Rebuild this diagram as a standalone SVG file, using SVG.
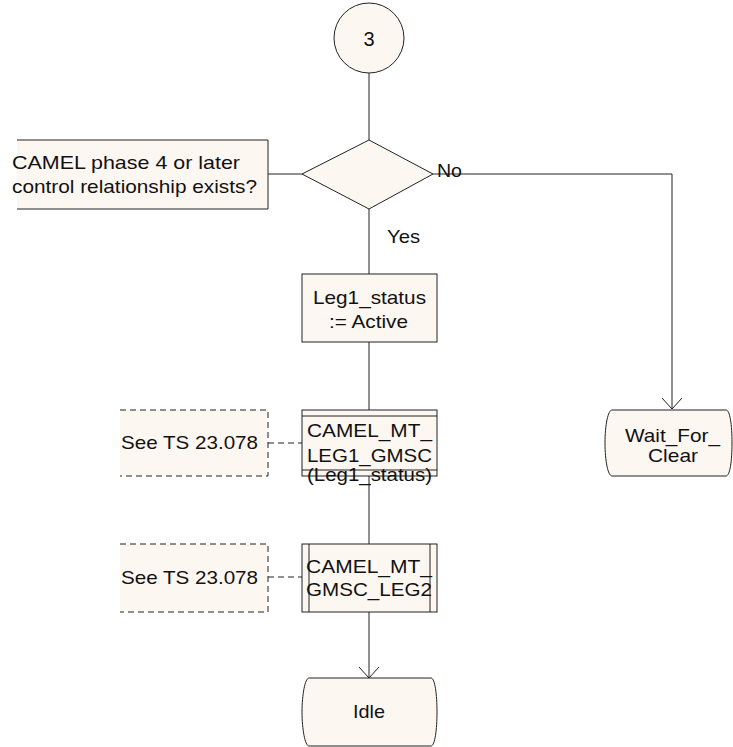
<svg xmlns="http://www.w3.org/2000/svg" width="733" height="747" viewBox="0 0 733 747">
<defs>
<marker id="arr" markerUnits="userSpaceOnUse" markerWidth="24" markerHeight="24" viewBox="-12 -12 24 24" refX="0" refY="0" orient="auto">
<path d="M-11,-10 L0,0 L-11,10" fill="none" stroke="#222" stroke-width="1"/>
</marker>
</defs>
<style>
.sh{fill:#fdf7f1;stroke:#222;stroke-width:1}
.ln{fill:none;stroke:#222;stroke-width:1}
.ds{fill:none;stroke:#222;stroke-width:1;stroke-dasharray:6 4}
.t{font-family:"Liberation Sans",Arial,sans-serif;font-size:19px;fill:#111}
.c{text-anchor:middle}
</style>
<rect width="733" height="747" fill="#fff"/>
<g id="connectors">
<path class="ln" d="M369,73 V140"/>
<path class="ln" d="M302,174 H268"/>
<path class="ln" d="M433,174 H672 V409" marker-end="url(#arr)"/>
<path class="ln" d="M369,209 V274"/>
<path class="ln" d="M369,342 V410"/>
<path class="ln" d="M369,476 V544"/>
<path class="ln" d="M369,612 V678" marker-end="url(#arr)"/>
<path class="ds" d="M268,443 H302"/>
<path class="ds" d="M268,577 H302"/>
</g>
<g id="connector-start">
<circle class="sh" cx="369" cy="38" r="35"/>
<text class="t c" x="369" y="46" style="font-size:20px">3</text>
</g>
<g id="decision">
<polygon class="sh" points="369,140 433,174 369,209 302,174"/>
<text class="t" x="437" y="177" textLength="25" lengthAdjust="spacingAndGlyphs">No</text>
<text class="t" x="387" y="243" textLength="33" lengthAdjust="spacingAndGlyphs">Yes</text>
</g>
<g id="decision-comment">
<rect x="17" y="140" width="251" height="69" fill="#fdf7f1"/>
<path class="ln" d="M17,140 H268 V209 H17"/>
<text class="t" x="12" y="169" textLength="228" lengthAdjust="spacingAndGlyphs">CAMEL phase 4 or later</text>
<text class="t" x="12" y="193" textLength="245" lengthAdjust="spacingAndGlyphs">control relationship exists?</text>
</g>
<g id="task-leg1">
<rect class="sh" x="302" y="274" width="135" height="68"/>
<text class="t" x="313" y="304" textLength="113" lengthAdjust="spacingAndGlyphs">Leg1_status</text>
<text class="t" x="329" y="328" textLength="79" lengthAdjust="spacingAndGlyphs">:= Active</text>
</g>
<g id="proc-leg1-gmsc">
<rect class="sh" x="302" y="410" width="135" height="66"/>
<path class="ln" d="M302,416 H437 M302,470 H437"/>
<text class="t" x="307" y="437" textLength="125" lengthAdjust="spacingAndGlyphs">CAMEL_MT_</text>
<text class="t" x="307" y="461.5" textLength="125" lengthAdjust="spacingAndGlyphs">LEG1_GMSC</text>
<text class="t" x="307" y="481" textLength="125" lengthAdjust="spacingAndGlyphs">(Leg1_status)</text>
</g>
<g id="comment-1">
<rect x="120" y="410" width="148" height="66" fill="#fdf7f1"/>
<path class="ds" d="M120,410 H268 V476 H120"/>
<text class="t" x="121" y="449" textLength="137" lengthAdjust="spacingAndGlyphs">See TS 23.078</text>
</g>
<g id="proc-gmsc-leg2">
<rect class="sh" x="302" y="544" width="135" height="68"/>
<path class="ln" d="M309,544 V612 M430,544 V612"/>
<text class="t" x="306" y="573" textLength="126" lengthAdjust="spacingAndGlyphs">CAMEL_MT_</text>
<text class="t" x="306" y="596" textLength="126" lengthAdjust="spacingAndGlyphs">GMSC_LEG2</text>
</g>
<g id="comment-2">
<rect x="120" y="544" width="148" height="68" fill="#fdf7f1"/>
<path class="ds" d="M120,544 H268 V612 H120"/>
<text class="t" x="121" y="584" textLength="137" lengthAdjust="spacingAndGlyphs">See TS 23.078</text>
</g>
<g id="state-wait">
<path class="sh" d="M612,410 H726 C730,410 732,425 732,443 C732,461 730,476 726,476 H612 C608,476 605,461 605,443 C605,425 608,410 612,410 Z"/>
<text class="t" x="625" y="442" textLength="95" lengthAdjust="spacingAndGlyphs">Wait_For_</text>
<text class="t" x="648" y="462" textLength="50" lengthAdjust="spacingAndGlyphs">Clear</text>
</g>
<g id="state-idle">
<path class="sh" d="M309,678 H431 C435,678 437,695 437,712 C437,729 435,746 431,746 H309 C305,746 302,729 302,712 C302,695 305,678 309,678 Z"/>
<text class="t" x="353" y="718" textLength="32" lengthAdjust="spacingAndGlyphs">Idle</text>
</g>
</svg>
